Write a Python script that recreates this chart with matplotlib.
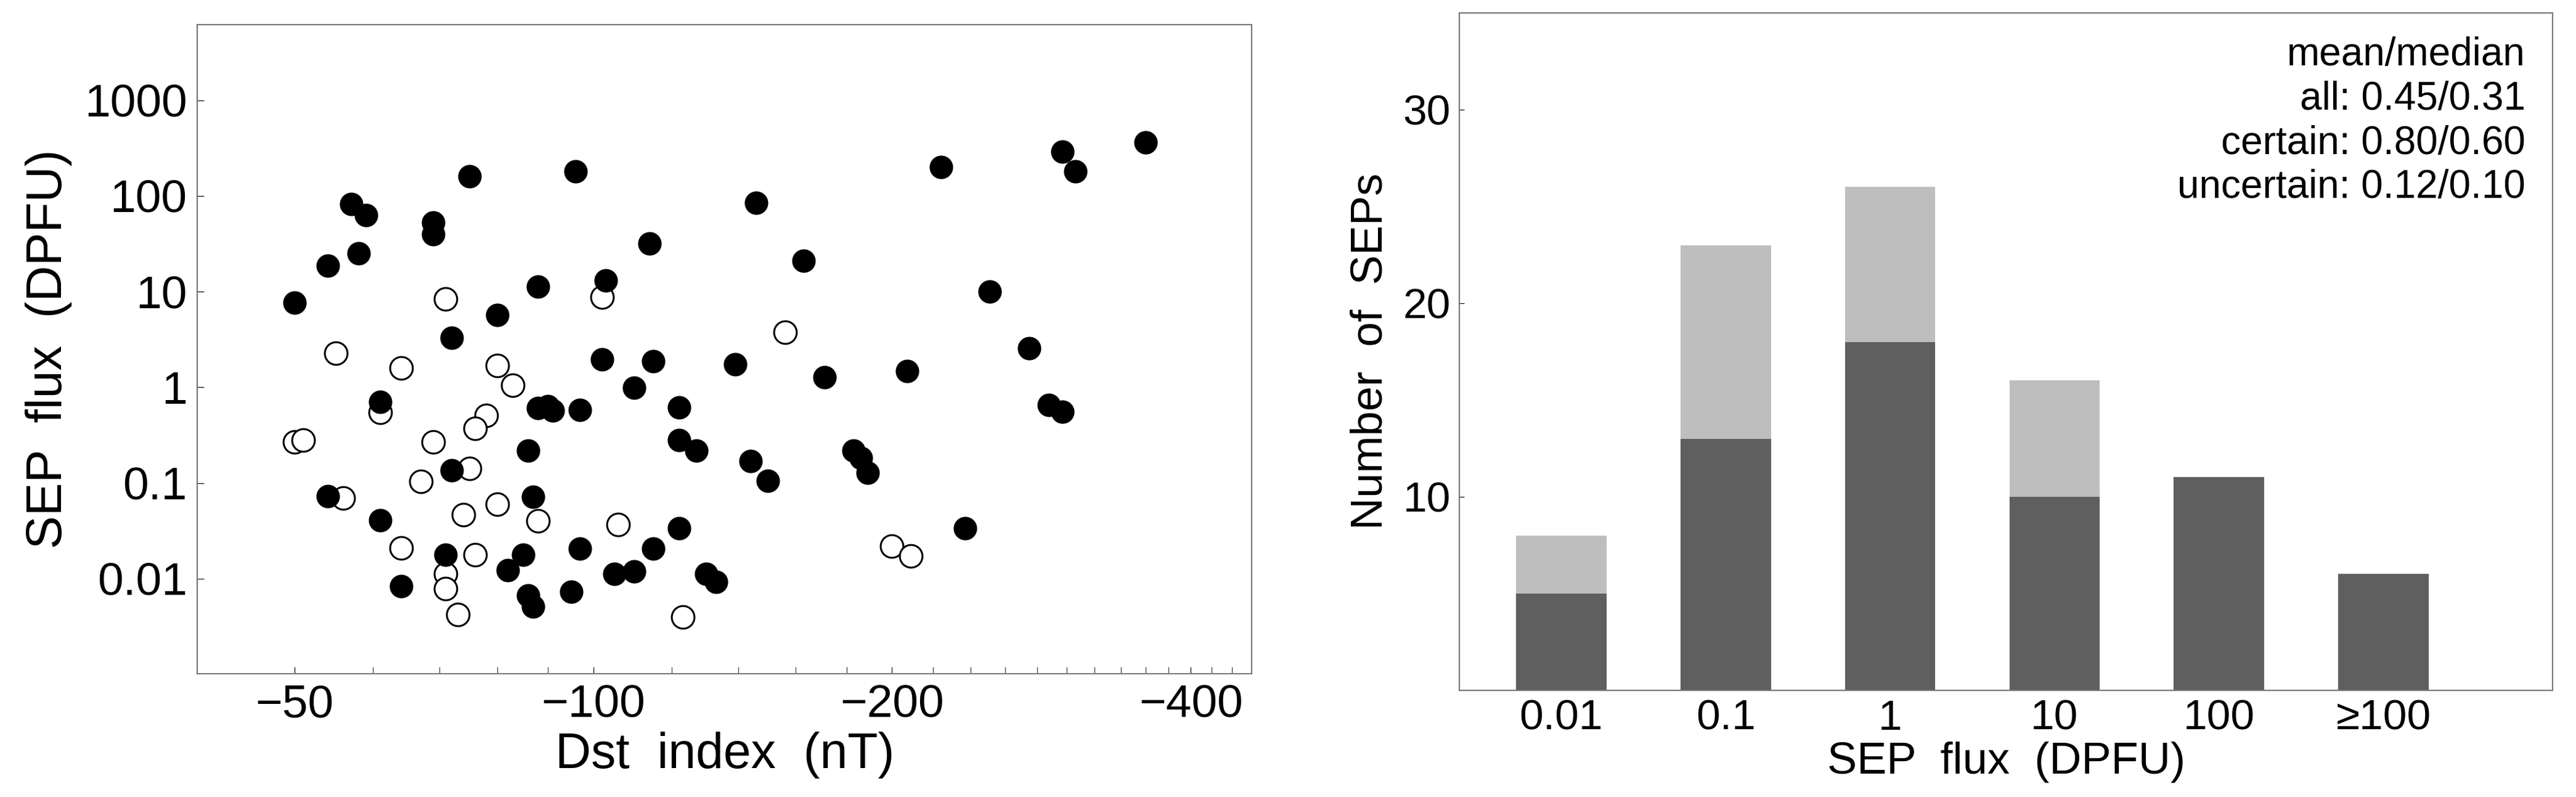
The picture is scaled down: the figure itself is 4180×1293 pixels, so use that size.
import matplotlib
matplotlib.use("Agg")
import matplotlib.pyplot as plt
import numpy as np
from matplotlib.ticker import FixedLocator, NullFormatter

plt.rcParams["font.family"] = ["Liberation Sans", "DejaVu Sans"]

# certain SEP events (filled)
dst_certain = [-50, -54, -57, -59, -58, -69, -69, -75, -96, -114, -88, -103, -80, -72,
               -102, -115, -110, -122, -61, -88, -90, -91, -97, -86, -122, -127, -72,
               -54, -87, -61, -122, -97, -115, -71, -85, -82, -105, -110, -130, -133,
               -64, -86, -87, -95,
               -146, -163, -224, -297, -306, -360, -251, -275, -139, -171, -207, -288,
               -297, -144, -150, -183, -186, -189, -237]
flux_certain = [7.7, 18.7, 82, 63, 25, 53, 40, 160, 181, 32, 11.3, 13.1, 5.7, 3.3,
                1.95, 1.87, 0.99, 0.62, 0.71, 0.61, 0.635, 0.574, 0.58, 0.218, 0.282,
                0.218, 0.135, 0.073, 0.0718, 0.041, 0.0336, 0.0207, 0.0207, 0.0179,
                0.0179, 0.0122, 0.0112, 0.012, 0.0112, 0.0093, 0.0083, 0.0067, 0.0051,
                0.0073,
                85, 21, 202, 289, 181, 364, 10.1, 2.58, 1.75, 1.28, 1.47, 0.65, 0.56,
                0.17, 0.105, 0.218, 0.184, 0.128, 0.0336]

# uncertain SEP events (open)
dst_uncertain = [-50, -51, -55, -61, -64, -71, -102, -80, -83, -78, -76, -69, -75, -67,
                 -56, -80, -74, -88, -106, -64, -76, -71, -71, -73, -123, -156, -200, -209]
flux_uncertain = [0.27, 0.28, 2.29, 0.55, 1.59, 8.4, 8.8, 1.69, 1.05, 0.51, 0.37, 0.27,
                  0.142, 0.104, 0.070, 0.0605, 0.047, 0.040, 0.0367, 0.021, 0.0177,
                  0.0112, 0.0079, 0.0042, 0.004, 3.77, 0.0218, 0.0173]

# histogram
bins = ["0.01", "0.1", "1", "10", "100", "\u2265100"]
count_certain = [5, 13, 18, 10, 11, 6]
count_all = [8, 23, 26, 16, 11, 6]
stats_text = ["mean/median", "all: 0.45/0.31", "certain: 0.80/0.60", "uncertain: 0.12/0.10"]

fig = plt.figure(figsize=(41.8, 12.93), dpi=100)
ax1 = fig.add_axes([0.0766, 0.155, 0.4094, 0.814])
ax2 = fig.add_axes([0.5665, 0.134, 0.4245, 0.850])

# scatter panel: x is log of |Dst|, shown as negative values
ax1.scatter(-np.array(dst_certain), flux_certain, s=700, c="black", edgecolors="black", zorder=3)
ax1.scatter(-np.array(dst_uncertain), flux_uncertain, s=700, facecolors="white",
            edgecolors="black", linewidths=2.2, zorder=2)
ax1.set_xscale("log")
ax1.set_yscale("log")
ax1.set_xlim(39.9, 461)
ax1.set_ylim(10 ** -2.99, 10 ** 3.79)
ax1.xaxis.set_major_locator(FixedLocator([50, 100, 200, 400]))
ax1.set_xticklabels(["\u221250", "\u2212100", "\u2212200", "\u2212400"])
ax1.xaxis.set_minor_locator(FixedLocator([60, 70, 80, 90] + list(range(120, 461, 20))))
ax1.xaxis.set_minor_formatter(NullFormatter())
ax1.yaxis.set_major_locator(FixedLocator([0.01, 0.1, 1, 10, 100, 1000]))
ax1.set_yticklabels(["0.01", "0.1", "1", "10", "100", "1000"])
ax1.yaxis.set_minor_locator(FixedLocator([]))
ax1.tick_params(axis="both", which="major", direction="in", length=8, labelsize=54, pad=12)
ax1.tick_params(axis="x", which="minor", direction="in", length=8)
ax1.set_xlabel("Dst  index  (nT)", fontsize=58, labelpad=6)
ax1.set_ylabel("SEP  flux  (DPFU)", fontsize=58, labelpad=14)

# histogram panel
x = np.arange(len(bins))
ax2.bar(x, count_all, width=0.55, color="#bebebe", zorder=1)
ax2.bar(x, count_certain, width=0.55, color="#5f5f5f", zorder=2)
ax2.set_xlim(-0.62, 6.03)
ax2.set_ylim(0, 35)
ax2.set_yticks([10, 20, 30])
ax2.set_xticks(x)
ax2.set_xticklabels(bins)
ax2.tick_params(axis="both", direction="in", length=6, labelsize=50, pad=10)
ax2.set_xlabel("SEP  flux  (DPFU)", fontsize=52, labelpad=4)
ax2.set_ylabel("Number  of  SEPs", fontsize=52, labelpad=14)
ax2.text(0.975, 0.965, "\n".join(stats_text), transform=ax2.transAxes, ha="right", va="top",
         fontsize=46, linespacing=1.25)

for ax in (ax1, ax2):
    for sp in ax.spines.values():
        sp.set_color("#777777")
        sp.set_linewidth(1.5)

fig.savefig("out.png", dpi=100)
